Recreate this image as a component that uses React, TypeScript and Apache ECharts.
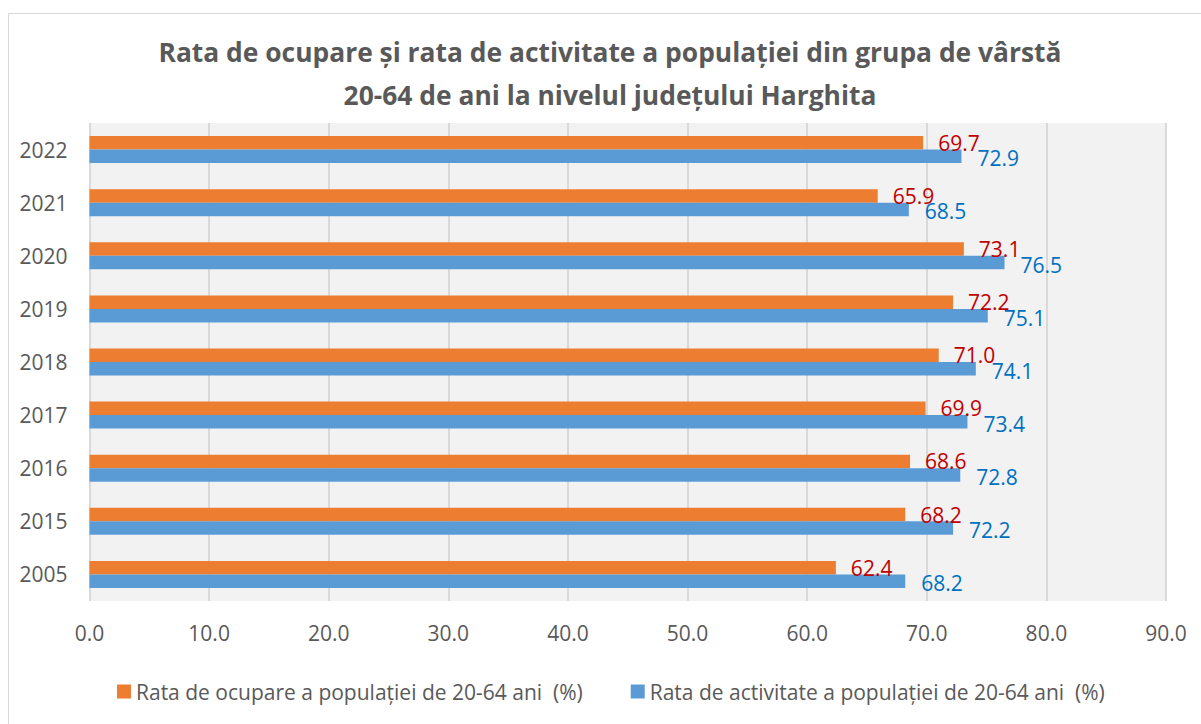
import React, { useEffect, useRef } from "react";
import * as echarts from "echarts";

const years = ["2005", "2015", "2016", "2017", "2018", "2019", "2020", "2021", "2022"];
const ocupare = [62.4, 68.2, 68.6, 69.9, 71.0, 72.2, 73.1, 65.9, 69.7];
const activitate = [68.2, 72.2, 72.8, 73.4, 74.1, 75.1, 76.5, 68.5, 72.9];
const seriesNames = [
  "Rata de ocupare a populației de 20-64 ani  (%)",
  "Rata de activitate a populației de 20-64 ani  (%)",
];
const titleText =
  "Rata de ocupare și rata de activitate a populației din grupa de vârstă\n20-64 de ani la nivelul județului Harghita";

const FONT = "'Open Sans', 'Noto Sans', sans-serif";

export default function App() {
  const ref = useRef<HTMLDivElement>(null);
  useEffect(() => {
    if (!ref.current) return;
    const chart = echarts.init(ref.current, null, { renderer: "svg" });
    chart.setOption({
      animation: false,
      backgroundColor: "#ffffff",
      textStyle: { fontFamily: FONT },
      graphic: [
        {
          type: "rect",
          shape: { x: 8.5, y: 13.5, width: 1300, height: 800 },
          style: { fill: "none", stroke: "#d9d9d9", lineWidth: 1 },
          z: -1,
        },
      ],
      title: {
        text: titleText,
        left: 605,
        textAlign: "center",
        top: 25,
        textStyle: {
          fontFamily: FONT,
          fontSize: 26.4,
          fontWeight: "bold",
          color: "#595959",
          lineHeight: 43,
        },
      },
      legend: {
        bottom: 17,
        left: 112,
        itemWidth: 14,
        itemHeight: 14,
        itemGap: 48,
        icon: "rect",
        textStyle: { fontFamily: FONT, fontSize: 21, color: "#595959" },
        data: seriesNames,
      },
      grid: {
        left: 89.5,
        right: 35,
        top: 123,
        bottom: 123,
        show: true,
        backgroundColor: "#f2f2f2",
        borderWidth: 0,
        containLabel: false,
      },
      xAxis: {
        type: "value",
        min: 0,
        max: 90,
        interval: 10,
        axisLine: { show: false },
        axisTick: { show: false },
        splitLine: { show: true, lineStyle: { color: "#d9d9d9", width: 2 } },
        axisLabel: {
          margin: 21,
          fontFamily: FONT,
          fontSize: 21,
          color: "#595959",
          formatter: (v: number) => v.toFixed(1),
        },
      },
      yAxis: {
        type: "category",
        data: years,
        axisLine: { show: false },
        axisTick: { show: false },
        axisLabel: { margin: 22, fontFamily: FONT, fontSize: 21, color: "#595959" },
      },
      series: [
        {
          name: seriesNames[0],
          type: "bar",
          data: ocupare,
          barWidth: 13.5,
          barGap: "0%",
          itemStyle: { color: "#ED7D31" },
          label: {
            show: true,
            position: "right",
            distance: 15,
            fontFamily: FONT,
            fontSize: 21,
            color: "#C00000",
            formatter: (p: any) => Number(p.value).toFixed(1),
          },
        },
        {
          name: seriesNames[1],
          type: "bar",
          data: activitate,
          barWidth: 13.5,
          barGap: "0%",
          itemStyle: { color: "#5B9BD5" },
          label: {
            show: true,
            position: "right",
            distance: 16,
            offset: [0, 2],
            fontFamily: FONT,
            fontSize: 21,
            color: "#0070C0",
            formatter: (p: any) => Number(p.value).toFixed(1),
          },
        },
      ],
    });
    return () => chart.dispose();
  }, []);
  return (
    <div
      ref={ref}
      style={{ position: "absolute", left: 0, top: 0, width: 1201, height: 724 }}
    />
  );
}
